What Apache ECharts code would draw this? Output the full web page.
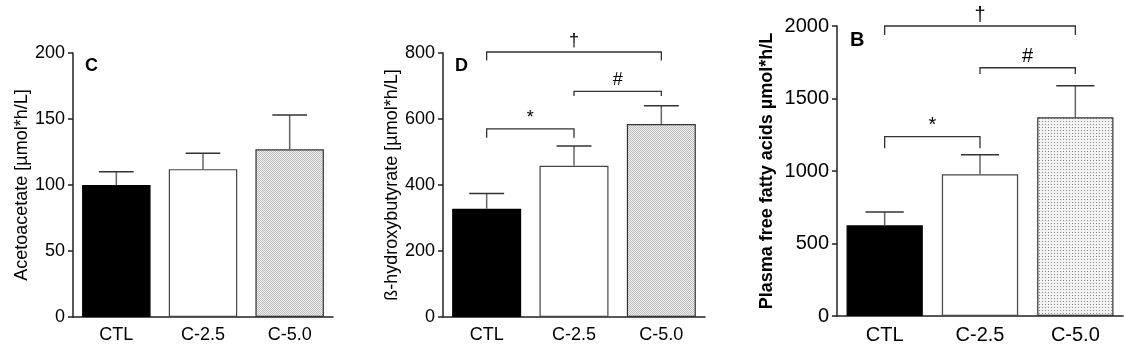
<!DOCTYPE html>
<html>
<head>
<meta charset="utf-8">
<script src="https://cdn.jsdelivr.net/npm/echarts@6/dist/echarts.min.js"></script>
<style>
  html, body { margin: 0; padding: 0; background: #fff; }
  #main { width: 1124px; height: 352px; }
</style>
</head>
<body>
<div id="main"></div>
<script>
// data
var categories = ['CTL', 'C-2.5', 'C-5.0'];
var acetoMean = [100, 112, 127];
var acetoUpper = [110, 124, 153];
var hydroxyMean = [328, 458, 585];
var hydroxyUpper = [374, 518, 640];
var ffaMean = [625, 977, 1370];
var ffaUpper = [717, 1112, 1588];
// [from category, to category, bracket level, tick end]
var hydroxyBrackets = [[0, 2, 803, 777], [1, 2, 684, 670], [0, 1, 570, 543]];
var ffaBrackets = [[0, 2, 2000, 1938], [1, 2, 1712, 1669], [0, 1, 1237, 1157]];
var bracketMarks = ['\u2020', '#', '*'];

window.onload = function () {
    var font = 'Liberation Sans, Arial, sans-serif';

    function makePattern(size, bg, fg, dots) {
        var c = document.createElement('canvas');
        c.width = size;
        c.height = size;
        var ctx = c.getContext('2d');
        ctx.fillStyle = bg;
        ctx.fillRect(0, 0, size, size);
        ctx.fillStyle = fg;
        dots.forEach(function (d) { ctx.fillRect(d[0], d[1], 1, 1); });
        return c;
    }
    var hatch = makePattern(2, '#f0f0f0', '#bdbdbd', [[0, 0], [1, 1]]);
    var dotted = makePattern(3, '#f2f2f2', '#8a8a8a', [[1, 1]]);

    function barData(values, pattern) {
        var fills = ['#000', '#fff', { image: pattern, repeat: 'repeat' }];
        var borders = ['#000', '#444', '#333'];
        return values.map(function (v, i) {
            return { value: v, itemStyle: { color: fills[i], borderColor: borders[i], borderWidth: 1.2 } };
        });
    }

    function errData(mean, upper) {
        return mean.map(function (m, i) { return [i, m, upper[i]]; });
    }

    function errorItem(params, api) {
        var x = api.value(0);
        var base = api.coord([x, api.value(1)]);
        var top = api.coord([x, api.value(2)]);
        var half = api.size([1, 0])[0] * 0.2;
        return {
            type: 'group',
            children: [
                { type: 'line', shape: { x1: base[0], y1: base[1], x2: top[0], y2: top[1] },
                  style: { stroke: '#666', lineWidth: 1.5 } },
                { type: 'line', shape: { x1: top[0] - half, y1: top[1], x2: top[0] + half, y2: top[1] },
                  style: { stroke: '#333', lineWidth: 1.5 } }
            ]
        };
    }

    function bracketItem(fontSize) {
        return function (params, api) {
            var p1 = api.coord([api.value(0), api.value(2)]);
            var p2 = api.coord([api.value(1), api.value(2)]);
            var yt = api.coord([api.value(0), api.value(3)])[1];
            return {
                type: 'group',
                children: [
                    { type: 'polyline', shape: { points: [[p1[0], yt], p1, p2, [p2[0], yt]] },
                      style: { stroke: '#333', lineWidth: 1.3, fill: null } },
                    { type: 'text', x: (p1[0] + p2[0]) / 2, y: p1[1] - 11,
                      style: { text: bracketMarks[params.dataIndex], fontSize: fontSize, fontFamily: font,
                               fill: '#000', align: 'center', verticalAlign: 'middle' } }
                ]
            };
        };
    }

    function xAxisFor(grid, size) {
        return {
            gridIndex: grid,
            type: 'category',
            data: categories,
            axisTick: { show: false },
            axisLine: { lineStyle: { color: '#222', width: 1.5 } },
            axisLabel: { color: '#000', fontSize: size, fontFamily: font, margin: 9 }
        };
    }

    function yAxisFor(grid, max, interval, name, size, gap, bold) {
        return {
            gridIndex: grid,
            type: 'value',
            min: 0,
            max: max,
            interval: interval,
            name: name,
            nameLocation: 'middle',
            nameGap: gap,
            nameTextStyle: { color: '#000', fontSize: 18, fontFamily: font, fontWeight: bold ? 'bold' : 'normal' },
            splitLine: { show: false },
            axisLine: { show: true, lineStyle: { color: '#222', width: 1.5 } },
            axisTick: { show: true, length: 5, lineStyle: { color: '#222', width: 1.5 } },
            axisLabel: { color: '#000', fontSize: size, fontFamily: font, margin: 8,
                         formatter: function (v) { return String(v); } }
        };
    }

    var option = {
        animation: false,
        title: [
            { text: 'C', left: 80, top: 52, textStyle: { color: '#000', fontSize: 18, fontWeight: 'bold', fontFamily: font } },
            { text: 'D', left: 450, top: 52, textStyle: { color: '#000', fontSize: 18, fontWeight: 'bold', fontFamily: font } },
            { text: 'B', left: 845, top: 25, textStyle: { color: '#000', fontSize: 20, fontWeight: 'bold', fontFamily: font } }
        ],
        grid: [
            { left: 73, top: 53, width: 260, height: 264 },
            { left: 443, top: 53, width: 262, height: 264 },
            { left: 837, top: 26, width: 286, height: 290 }
        ],
        xAxis: [xAxisFor(0, 18), xAxisFor(1, 18), xAxisFor(2, 20)],
        yAxis: [
            yAxisFor(0, 200, 50, 'Acetoacetate [\u00b5mol*h/L]', 18, 42, false),
            yAxisFor(1, 800, 200, '\u00df-hydroxybutyrate [\u00b5mol*h/L]', 18, 42, false),
            yAxisFor(2, 2000, 500, 'Plasma free fatty acids \u00b5mol*h/L', 20, 61, true)
        ],
        series: [
            { type: 'bar', xAxisIndex: 0, yAxisIndex: 0, barWidth: '79%', data: barData(acetoMean, hatch) },
            { type: 'bar', xAxisIndex: 1, yAxisIndex: 1, barWidth: '79%', data: barData(hydroxyMean, hatch) },
            { type: 'bar', xAxisIndex: 2, yAxisIndex: 2, barWidth: '80%', data: barData(ffaMean, dotted) },
            { type: 'custom', xAxisIndex: 0, yAxisIndex: 0, renderItem: errorItem, data: errData(acetoMean, acetoUpper), z: 5 },
            { type: 'custom', xAxisIndex: 1, yAxisIndex: 1, renderItem: errorItem, data: errData(hydroxyMean, hydroxyUpper), z: 5 },
            { type: 'custom', xAxisIndex: 2, yAxisIndex: 2, renderItem: errorItem, data: errData(ffaMean, ffaUpper), z: 5 },
            { type: 'custom', xAxisIndex: 1, yAxisIndex: 1, renderItem: bracketItem(18), data: hydroxyBrackets, clip: false, z: 6 },
            { type: 'custom', xAxisIndex: 2, yAxisIndex: 2, renderItem: bracketItem(20), data: ffaBrackets, clip: false, z: 6 }
        ]
    };

    var chart = echarts.init(document.getElementById('main'));
    chart.setOption(option);
};
</script>
</body>
</html>
